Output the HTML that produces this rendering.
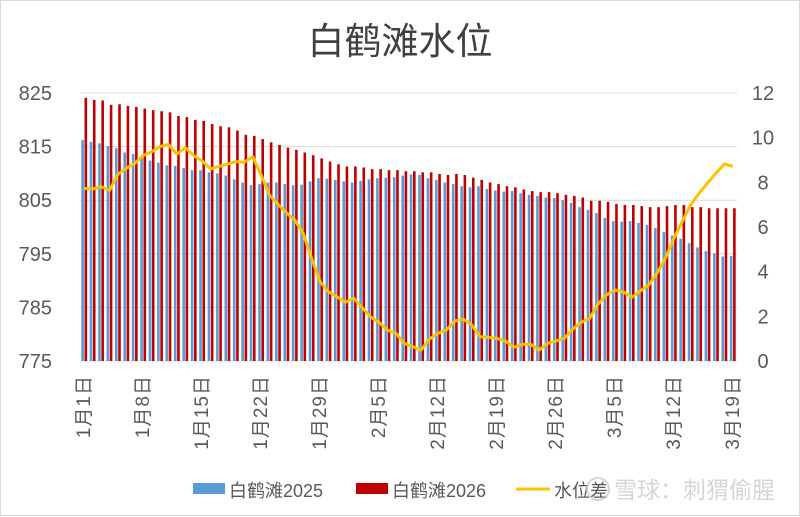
<!DOCTYPE html>
<html><head><meta charset="utf-8">
<style>
html,body{margin:0;padding:0;background:#fff;}
#wrap{position:relative;width:800px;height:517px;overflow:hidden;}
svg{display:block;font-family:"Liberation Sans","Noto Sans CJK SC",sans-serif;}
</style></head>
<body>
<div id="wrap">
<svg id="chart" width="800" height="517" viewBox="0 0 800 517">
<rect x="0.5" y="0.5" width="799" height="515" fill="#fff" stroke="#d9d9d9"/>
<text x="400" y="54" text-anchor="middle" font-size="37" fill="#404040">白鹤滩水位</text>
<g id="grid"></g><g id="bars"></g><g id="line"></g><g id="axes"></g>
<g>
<rect x="193" y="483" width="32" height="11" fill="#5b9bd5"/>
<text x="229" y="497" font-size="18" fill="#595959">白鹤滩2025</text>
<rect x="356" y="483" width="32" height="11" fill="#c00000"/>
<text x="392" y="497" font-size="18" fill="#595959">白鹤滩2026</text>
<line x1="516" y1="489" x2="550" y2="489" stroke="#ffc000" stroke-width="3"/>
<text x="554" y="497" font-size="18" fill="#595959">水位差</text>
</g>
<g opacity="0.75">
<circle cx="598" cy="489" r="11" fill="none" stroke="#c8c8c8" stroke-width="2"/>
<text x="614" y="498" font-size="23" fill="#c8c8c8">雪球：刺猬偷腥</text>
</g>
</svg>
</div>
<script>
const dateLabels = ["1月1日","1月8日","1月15日","1月22日","1月29日","2月5日","2月12日","2月19日","2月26日","3月5日","3月12日","3月19日"];
const leftTicks = [775,785,795,805,815,825];
const rightTicks = [0,2,4,6,8,10,12];
const level2025 = [816.2,815.9,815.6,815.1,814.7,813.9,813.6,812.9,812.4,812.0,811.5,811.4,811.0,810.6,810.6,810.2,810.0,809.6,808.9,808.3,807.8,808.0,808.3,808.3,808.0,807.8,807.9,808.5,809.1,809.0,808.8,808.5,808.3,808.6,808.9,809.1,809.2,809.3,809.6,809.8,809.7,809.1,808.8,808.3,808.0,807.6,807.4,807.6,807.1,806.8,806.6,806.7,806.3,806.0,805.8,805.5,805.4,805.0,804.5,803.7,803.2,802.6,801.7,801.1,801.0,801.1,800.75,800.4,799.8,799.1,798.4,797.8,797.0,796.2,795.5,795.1,794.5,794.6];
const level2026 = [824.1,823.7,823.6,822.8,822.9,822.6,822.4,822.1,821.8,821.6,821.4,820.7,820.5,820.0,819.8,819.2,818.8,818.6,818.0,817.2,817.0,816.4,815.8,815.3,814.8,814.4,813.9,813.4,812.8,812.2,811.7,811.3,811.3,811.1,810.8,810.8,810.6,810.6,810.4,810.4,810.2,810.2,809.9,809.7,809.9,809.7,809.2,808.8,808.3,808.0,807.6,807.4,807.0,806.7,806.5,806.5,806.3,806.0,805.8,805.5,804.9,804.9,804.7,804.3,804.1,804.1,803.9,803.7,803.7,803.9,804.1,804.1,803.7,803.7,803.5,803.5,803.5,803.5];
const levelDiff = [7.73,7.70,7.81,7.64,8.36,8.63,8.85,9.20,9.37,9.60,9.70,9.26,9.55,9.20,8.96,8.60,8.72,8.81,8.93,8.90,9.15,8.33,7.43,7.02,6.64,6.31,5.72,4.60,3.55,3.10,2.88,2.63,2.81,2.39,1.97,1.73,1.39,1.24,0.79,0.64,0.49,0.99,1.24,1.39,1.79,1.87,1.61,1.09,1.06,1.01,0.90,0.61,0.75,0.75,0.49,0.79,0.90,1.01,1.43,1.73,1.91,2.55,2.96,3.18,3.10,2.85,3.13,3.40,3.93,4.60,5.49,6.24,6.99,7.51,7.96,8.41,8.82,8.72];

const NS='http://www.w3.org/2000/svg';
const L=80,R=737,T=93,B=361;
const n=level2026.length;
const step=(R-L)/n;
const xC=i=>L+step*(i+0.5);
const yL=v=>B-(v-775)/(825-775)*(B-T);
const yR=v=>B-v/12*(B-T);
function mk(tag,attrs,parent){const e=document.createElementNS(NS,tag);for(const k in attrs)e.setAttribute(k,attrs[k]);parent.appendChild(e);return e;}
const grid=document.getElementById('grid'),bars=document.getElementById('bars'),lineG=document.getElementById('line'),axes=document.getElementById('axes');

leftTicks.forEach(v=>{
  const g=mk('line',{x1:L,x2:R,y1:yL(v),y2:yL(v),stroke:'#d9d9d9','stroke-width':1},grid);
  
  
  const t=mk('text',{x:52,y:yL(v)+7,'text-anchor':'end','font-size':20,fill:'#595959'},axes);
  t.textContent=v;
  
  
});
rightTicks.forEach(v=>{
  const t=mk('text',{x:763,y:yR(v)+7,'text-anchor':'middle','font-size':20,fill:'#595959'},axes);
  t.textContent=v;
  
  
});
const bw=2.6;
for(let i=0;i<n;i++){
  const b1=mk('rect',{x:xC(i)-bw-0.3,y:yL(level2025[i]),width:bw,height:B-yL(level2025[i]),fill:'#5b9bd5'},bars);
  
  
  const b2=mk('rect',{x:xC(i)+0.3,y:yL(level2026[i]),width:bw,height:B-yL(level2026[i]),fill:'#c00000'},bars);
  
  
}
const pts=levelDiff.map((v,i)=>xC(i).toFixed(1)+','+yR(v).toFixed(1)).join(' ');
const pl=mk('polyline',{points:pts,fill:'none',stroke:'#ffc000','stroke-width':3,'stroke-linejoin':'round'},lineG);


dateLabels.forEach((d,k)=>{
  const x=xC(k*7);
  const t=mk('text',{x:0,y:0,'text-anchor':'end','font-size':19,'letter-spacing':'1',fill:'#595959',transform:'translate('+(x+6)+',375) rotate(-90)'},axes);
  t.textContent=d;
  
  
});
</script>
</body></html>
